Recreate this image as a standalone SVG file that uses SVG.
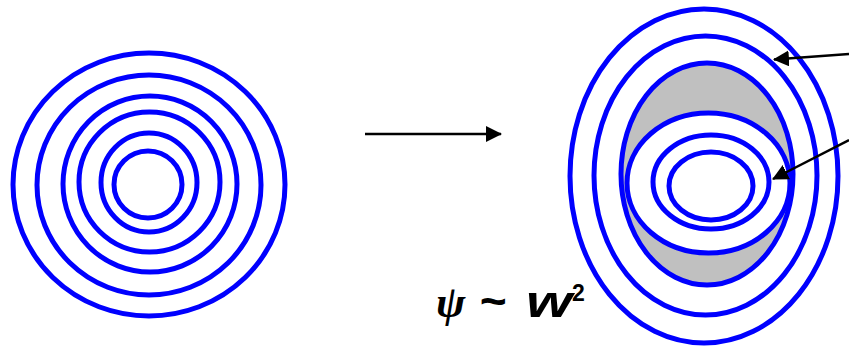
<svg xmlns="http://www.w3.org/2000/svg" width="849" height="346" viewBox="0 0 849 346">
<defs>
<style>
.r{fill:none;stroke:#0000ff;stroke-width:5}
.w{fill:#ffffff;stroke:#0000ff;stroke-width:5}
.g{fill:#c0c0c0;stroke:#0000ff;stroke-width:5}
.c{stroke:#000;stroke-width:2.5;fill:none}
.t{font-family:"Liberation Sans",Arial,sans-serif;font-weight:bold;font-style:italic;fill:#000}
.p{font-family:"Liberation Serif","Times New Roman",serif;font-style:italic;font-weight:bold;fill:#000}
</style>
<marker id="ah2" markerWidth="16" markerHeight="16" refX="15" refY="8" orient="auto" markerUnits="userSpaceOnUse" viewBox="0 0 16 16">
<path d="M0,0 L16,8 L0,16 Z" fill="#000"/>
</marker>
</defs>
<g id="left-rings">
<ellipse class="r" cx="149" cy="184.5" rx="136" ry="131.5"/>
<ellipse class="r" cx="149" cy="185" rx="112" ry="110"/>
<ellipse class="r" cx="150" cy="184" rx="87" ry="88"/>
<ellipse class="r" cx="149.5" cy="182" rx="70.5" ry="70"/>
<ellipse class="r" cx="149" cy="182.5" rx="48" ry="49.5"/>
<ellipse class="r" cx="148" cy="184.5" rx="34" ry="33.5"/>
</g>
<g id="right-rings">
<ellipse class="r" cx="704" cy="176" rx="134" ry="167"/>
<ellipse class="r" cx="705.5" cy="175.5" rx="111.5" ry="139.5"/>
<ellipse class="g" cx="707" cy="174" rx="86" ry="111"/>
<ellipse class="w" cx="708.5" cy="183" rx="81.5" ry="70"/>
<ellipse class="r" cx="711" cy="182" rx="58" ry="47"/>
<ellipse class="r" cx="711" cy="186" rx="42" ry="34"/>
</g>
<g id="connectors">
<line class="c" x1="365" y1="134" x2="501" y2="134" marker-end="url(#ah2)"/>
<line class="c" x1="849" y1="54" x2="774" y2="59.5" marker-end="url(#ah2)"/>
<line class="c" x1="849" y1="140" x2="773" y2="179" marker-end="url(#ah2)"/>
</g>
<g id="label">
<text class="p" x="436" y="317" style="font-size:44px">ψ</text>
<text class="t" x="479" y="317" style="font-size:46px">~</text>
<text class="t" x="526" y="317" style="font-size:44px" textLength="46" lengthAdjust="spacingAndGlyphs">w</text>
<text class="t" x="572" y="301" style="font-size:23px;font-style:normal">2</text>
</g>
</svg>
